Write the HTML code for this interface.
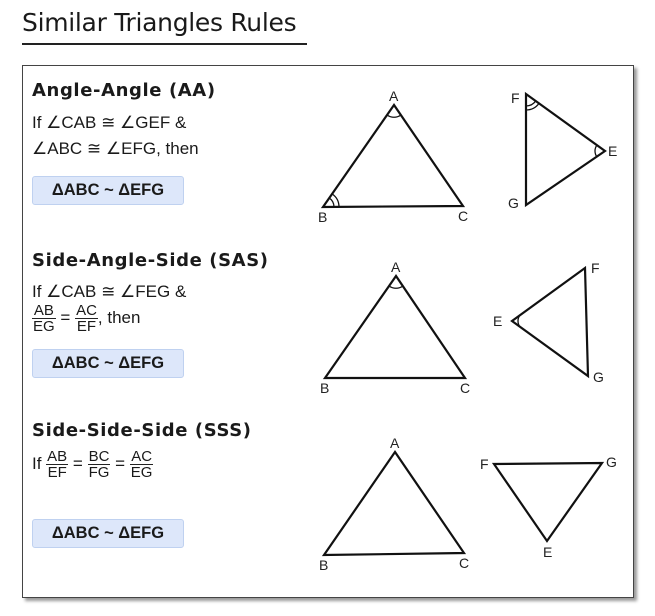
<!DOCTYPE html>
<html><head><style>
body{margin:0;width:655px;height:616px;background:#fff;font-family:"Liberation Sans",sans-serif;color:#1a1a1a;position:relative;overflow:hidden}
h1{position:absolute;left:22px;top:8px;margin:0;font-weight:normal;font-size:25px;font-family:"DejaVu Sans","Liberation Sans",sans-serif;letter-spacing:-0.3px}
.ul{position:absolute;left:22px;top:43px;width:285px;height:2px;background:#222}
.box{position:absolute;left:22px;top:65px;width:610px;height:531px;border:1.5px solid #444;box-shadow:3px 3px 3px #999}
.h{position:absolute;left:32px;font-size:18px;font-weight:bold;font-family:"DejaVu Sans",sans-serif;letter-spacing:0.6px}
.p{position:absolute;left:32px;font-size:17px;white-space:nowrap}
.pill{position:absolute;left:32px;width:150px;height:27px;background:#dde7fa;border:1px solid #bfd1f0;border-radius:3px;font-weight:bold;font-size:16.5px;line-height:27px;text-align:center}
.fr{display:inline-block;vertical-align:middle;text-align:center;font-size:15px;line-height:15px}
.fr span{display:block;padding:0 1px}
.fr span:first-child{border-bottom:1px solid #222}
</style></head><body>
<h1>Similar Triangles Rules</h1>
<div class="ul"></div>
<div class="box"></div>
<div class="h" style="top:80px">Angle-Angle (AA)</div>
<div class="p" style="top:113px">If ∠CAB ≅ ∠GEF &amp;</div>
<div class="p" style="top:139px">∠ABC ≅ ∠EFG, then</div>
<div class="pill" style="top:176px">ΔABC ~ ΔEFG</div>

<div class="h" style="top:250px">Side-Angle-Side (SAS)</div>
<div class="p" style="top:282px">If ∠CAB ≅ ∠FEG &amp;</div>
<div class="p" style="top:303px"><span class="fr"><span>AB</span><span>EG</span></span> = <span class="fr"><span>AC</span><span>EF</span></span>, then</div>
<div class="pill" style="top:349px">ΔABC ~ ΔEFG</div>

<div class="h" style="top:420px">Side-Side-Side (SSS)</div>
<div class="p" style="top:449px">If <span class="fr"><span>AB</span><span>EF</span></span> = <span class="fr"><span>BC</span><span>FG</span></span> = <span class="fr"><span>AC</span><span>EG</span></span></div>
<div class="pill" style="top:519px">ΔABC ~ ΔEFG</div>

<svg width="655" height="616" style="position:absolute;left:0;top:0" font-family="Liberation Sans" font-size="14" fill="#222">
<g fill="none" stroke="#111" stroke-width="2.2" stroke-linejoin="miter">
<polygon points="394,105 323,207 463,206"/>
<path d="M387,115 A12,12 0 0 0 401,115" stroke-width="1.3"/>
<path d="M334,207 A11,11 0 0 0 329.3,198" stroke-width="1.3"/>
<path d="M339,207 A16,16 0 0 0 332.1,193.9" stroke-width="1.3"/>
<polygon points="526,94 605,151 526,205"/>
<path d="M526,106 A12,12 0 0 0 535.7,101" stroke-width="1.3"/>
<path d="M526,110 A16,16 0 0 0 539,103.4" stroke-width="1.3"/>
<path d="M597,145 A10,10 0 0 0 597,157" stroke-width="1.3"/>
<polygon points="396,276 325,378 465,378"/>
<path d="M389,286 A12,12 0 0 0 403,286" stroke-width="1.3"/>
<polygon points="585,268 512,321 588,376"/>
<path d="M520,315 A10,10 0 0 0 520,327" stroke-width="1.3"/>
<polygon points="395,452 324,555 464,553"/>
<polygon points="494,464 602,463 547,541"/>
</g>
<text x="389" y="101">A</text><text x="318" y="222">B</text><text x="458" y="221">C</text>
<text x="511" y="103">F</text><text x="608" y="156">E</text><text x="508" y="208">G</text>
<text x="391" y="272">A</text><text x="320" y="393">B</text><text x="460" y="393">C</text>
<text x="591" y="273">F</text><text x="493" y="326">E</text><text x="593" y="382">G</text>
<text x="390" y="448">A</text><text x="319" y="570">B</text><text x="459" y="568">C</text>
<text x="480" y="469">F</text><text x="606" y="467">G</text><text x="543" y="557">E</text>
</svg>
</body></html>
